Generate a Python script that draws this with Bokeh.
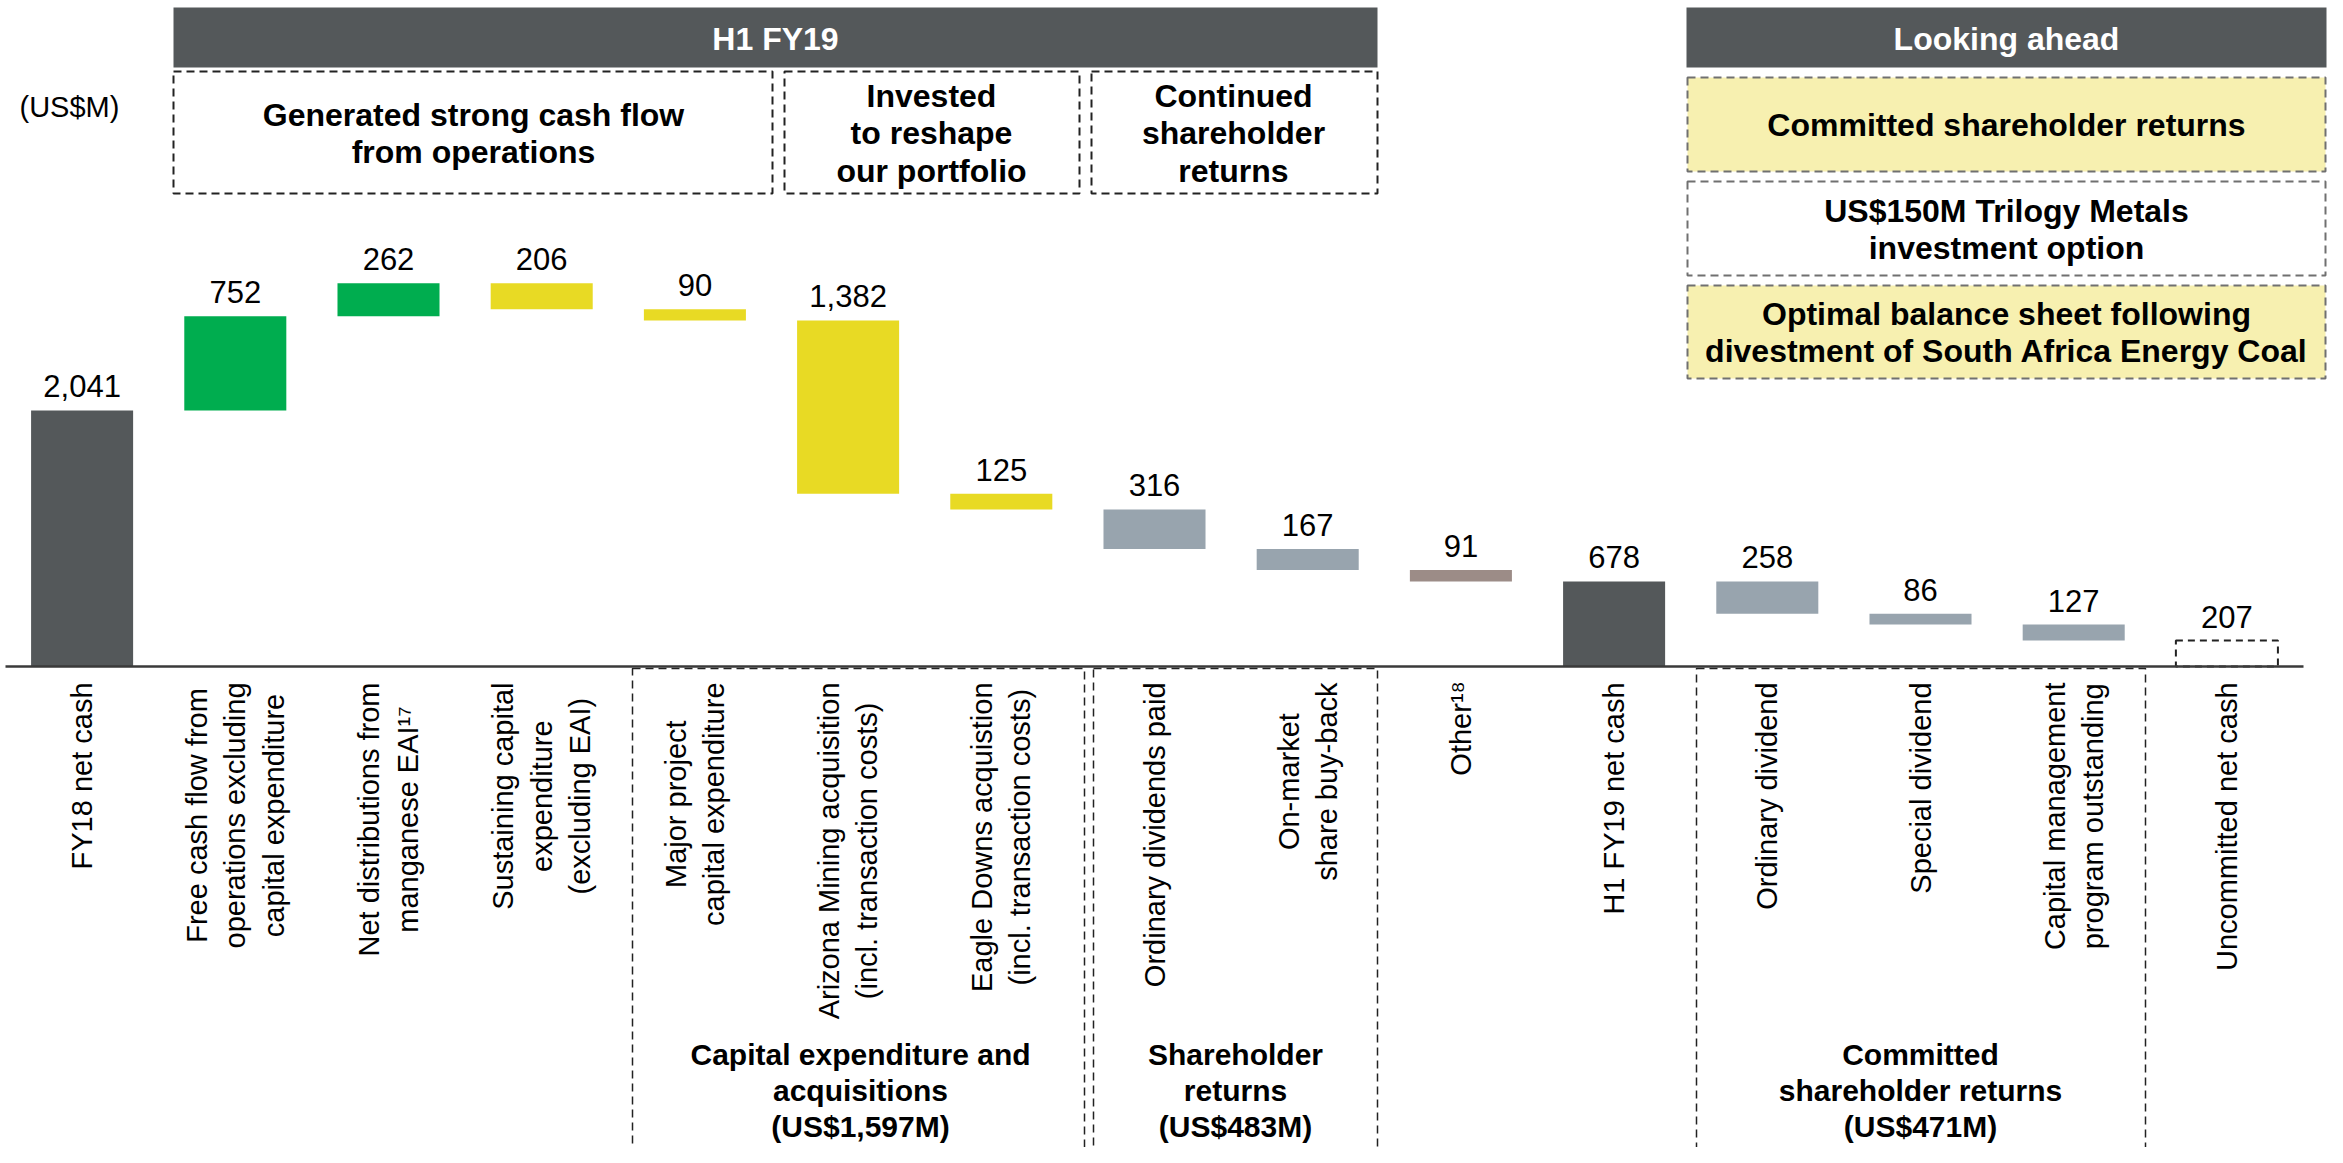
from math import pi
from bokeh.plotting import figure
from bokeh.models import Range1d
from bokeh.core.properties import value
from bokeh.embed import file_html
from bokeh.resources import INLINE

# ---------------- data ----------------
categories = [
    "FY18 net cash",
    "Free cash flow from\noperations excluding\ncapital expenditure",
    "Net distributions from\nmanganese EAI\u00b9\u2077",
    "Sustaining capital\nexpenditure\n(excluding EAI)",
    "Major project\ncapital expenditure",
    "Arizona Mining acquisition\n(incl. transaction costs)",
    "Eagle Downs acquistion\n(incl. transaction costs)",
    "Ordinary dividends paid",
    "On-market\nshare buy-back",
    "Other\u00b9\u2078",
    "H1 FY19 net cash",
    "Ordinary dividend",
    "Special dividend",
    "Capital management\nprogram outstanding",
    "Uncommitted net cash",
]
values = [2041, 752, 262, 206, 90, 1382, 125, 316, 167, 91, 678, 258, 86, 127, 207]
kinds = ["total", "up", "up", "down", "down", "down", "down", "down", "down", "down",
         "total", "down", "down", "down", "total"]
bar_colors = ["#54585A", "#00AD4F", "#00AD4F", "#E8DA24", "#E8DA24", "#E8DA24", "#E8DA24",
              "#98A4AE", "#98A4AE", "#9C8C87", "#54585A", "#98A4AE", "#98A4AE", "#98A4AE", None]

top_groups = ["Generated strong cash flow\nfrom operations",
              "Invested\nto reshape\nour portfolio",
              "Continued\nshareholder\nreturns"]
bottom_groups = ["Capital expenditure and\nacquisitions\n(US$1,597M)",
                 "Shareholder\nreturns\n(US$483M)",
                 "Committed\nshareholder returns\n(US$471M)"]
outlook_items = ["Committed shareholder returns",
                 "US$150M Trilogy Metals\ninvestment option",
                 "Optimal balance sheet following\ndivestment of South Africa Energy Coal"]
header_labels = ["H1 FY19", "Looking ahead"]
unit_label = "(US$M)"

# ---------------- waterfall ----------------
n = len(values)
idx = list(range(n))
bottoms, tops = [], []
running = 0
for v, k in zip(values, kinds):
    if k == "total":
        b, t = 0, v
        running = v
    elif k == "up":
        b, t = running, running + v
        running += v
    else:
        b, t = running - v, running
        running -= v
    bottoms.append(b)
    tops.append(t)

# ---------------- layout helpers (page pixel -> data) ----------------
W, H = 2327, 1147
PITCH = 153.2
SCALE = 0.12543


def xd(px):
    return (px - 5) / PITCH - 0.5


def yd(py):
    return (666 - py) / SCALE


# approximate Arial / Liberation Sans advance widths (per 1000 em) for label layout
_AW = {" ": 278, "(": 333, ")": 333, "-": 333, ".": 278, "\u00b9": 333, "\u2077": 333,
       "\u2078": 333, "A": 667, "C": 722, "D": 722, "E": 667, "F": 611, "H": 722,
       "I": 278, "M": 833, "N": 722, "O": 778, "S": 667, "U": 722, "Y": 667,
       "c": 500, "f": 278, "i": 222, "j": 222, "k": 500, "l": 222, "m": 833, "r": 333,
       "s": 500, "t": 278, "v": 500, "w": 722, "x": 500, "y": 500, "z": 500}


def text_len(s, size):
    return max(sum(_AW.get(ch, 556) for ch in line) for line in s.split("\n")) * size / 1000


FONT = value("Liberation Sans")
CAT_SIZE = 29

p = figure(width=W, height=H, x_range=Range1d(xd(0), xd(W)),
           y_range=Range1d(yd(H), yd(0)), output_backend="svg",
           toolbar_location=None, min_border=0, x_axis_location=None,
           y_axis_location=None)
p.grid.visible = False
p.outline_line_color = None
p.background_fill_color = "white"
p.border_fill_color = "white"

# header bars
p.quad(left=[xd(173), xd(1686)], right=[xd(1377), xd(2326)],
       top=[yd(7)] * 2, bottom=[yd(67)] * 2, fill_color="#54585A", line_color=None)
p.text(x=[xd(775), xd(2006)], y=[yd(38)] * 2, text=header_labels,
       text_align="center", text_baseline="middle", text_font=FONT,
       text_font_style="bold", text_font_size="32px", text_color="white")

# top dashed boxes
tl = [xd(173), xd(784), xd(1091)]
tr = [xd(772), xd(1079), xd(1377)]
p.quad(left=tl, right=tr, top=[yd(71)] * 3, bottom=[yd(193)] * 3,
       fill_color=None, line_color="#222222", line_width=2, line_dash="8 5")
p.text(x=[xd(473), xd(931), xd(1233)], y=[yd(133), yd(133), yd(133)], text=top_groups,
       text_align="center", text_baseline="middle", text_font=FONT,
       text_font_style="bold", text_font_size="32px", text_line_height=1.03,
       text_color="black")

# outlook boxes
p.quad(left=[xd(1687)] * 3, right=[xd(2325)] * 3,
       top=[yd(77), yd(181), yd(285)], bottom=[yd(171), yd(275), yd(378)],
       fill_color=["#F7F0B0", "white", "#F7F0B0"], line_color="#707070",
       line_width=2, line_dash="8 5")
p.text(x=[xd(2006)] * 3, y=[yd(124), yd(229), yd(332)], text=outlook_items,
       text_align="center", text_baseline="middle", text_font=FONT,
       text_font_style="bold", text_font_size="32px", text_line_height=1.03,
       text_color="black")

p.text(x=[xd(19)], y=[yd(106)], text=[unit_label], text_align="left",
       text_baseline="middle", text_font=FONT, text_font_size="29px", text_color="black")

# bottom dashed group boxes
p.quad(left=[xd(632), xd(1093), xd(1696)], right=[xd(1084), xd(1377), xd(2145)],
       top=[yd(668)] * 3, bottom=[yd(1162)] * 3, fill_color=None,
       line_color="#222222", line_width=1.5, line_dash="8 5")
p.text(x=[xd(860), xd(1235), xd(1920)], y=[yd(1090)] * 3, text=bottom_groups,
       text_align="center", text_baseline="middle", text_font=FONT,
       text_font_style="bold", text_font_size="30px", text_line_height=1.08,
       text_color="black")

# bars
solid = [i for i in idx if bar_colors[i] is not None]
p.vbar(x=[idx[i] for i in solid], width=0.666, bottom=[bottoms[i] for i in solid],
       top=[tops[i] for i in solid], fill_color=[bar_colors[i] for i in solid],
       line_color=None)
dashed = [i for i in idx if bar_colors[i] is None]
p.vbar(x=[idx[i] for i in dashed], width=0.666, bottom=[bottoms[i] for i in dashed],
       top=[tops[i] for i in dashed], fill_color=None, line_color="#222222",
       line_width=2, line_dash="7 5")

# axis line
p.segment(x0=[xd(5)], x1=[xd(2303)], y0=[0], y1=[0], line_color="#3a3a3a", line_width=2.5)

# value labels (digit centre ~24 px above bar top)
p.text(x=idx, y=[t + 24 / SCALE for t in tops], text=[f"{v:,}" for v in values],
       text_align="center", text_baseline="middle", text_font=FONT,
       text_font_size="31px", text_color="black")

# category labels: lines centred, longest line starts just under the axis
cat_y = [yd(682 + text_len(c, CAT_SIZE) / 2) for c in categories]
p.text(x=idx, y=cat_y, text=categories, angle=pi / 2, text_align="center",
       text_baseline="middle", text_font=FONT, text_font_size=f"{CAT_SIZE}px",
       text_line_height=1.2, text_color="black")

open("out.html", "w").write(file_html(p, INLINE))
